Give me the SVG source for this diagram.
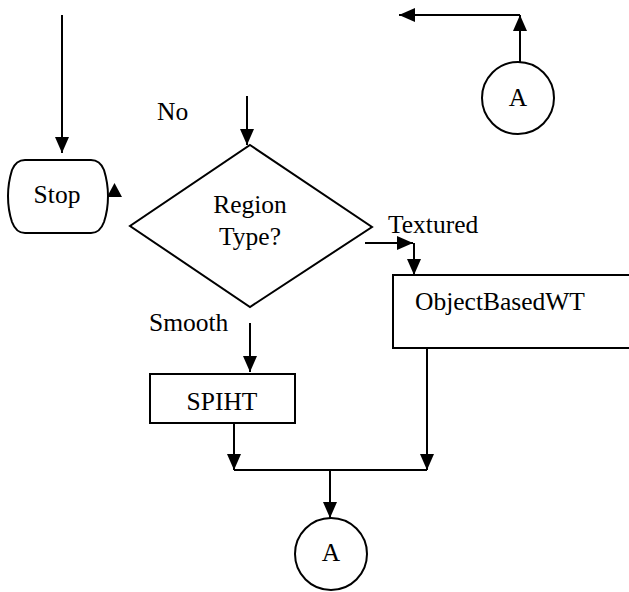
<svg xmlns="http://www.w3.org/2000/svg" width="629" height="592" viewBox="0 0 629 592">
<defs>
<style>
.shape{fill:#fff;stroke:#000;stroke-width:2}
.conn{fill:none;stroke:#000;stroke-width:2}
text{font-family:'Liberation Serif','Times New Roman','DejaVu Serif',serif;font-size:25.5px;fill:#000}
.mid{text-anchor:middle}
</style>
<marker id="ah" markerUnits="userSpaceOnUse" markerWidth="16" markerHeight="14" refX="16" refY="7" orient="auto">
<path d="M0,0 L16,7 L0,14 Z" fill="#000"/>
</marker>
</defs>
<rect width="629" height="592" fill="#fff"/>
<g id="connectors">
<line class="conn" x1="62" y1="15" x2="62" y2="153" marker-end="url(#ah)"/>
<line class="conn" x1="247" y1="96" x2="247" y2="145" marker-end="url(#ah)"/>
<polyline class="conn" points="520,62 520,15" marker-end="url(#ah)"/>
<line class="conn" x1="520" y1="15" x2="399" y2="15" marker-end="url(#ah)"/>
<line class="conn" x1="365" y1="243" x2="413" y2="243" marker-end="url(#ah)"/>
<line class="conn" x1="414" y1="243" x2="414" y2="275" marker-end="url(#ah)"/>
<line class="conn" x1="250" y1="323" x2="250" y2="372" marker-end="url(#ah)"/>
<line class="conn" x1="234" y1="423" x2="234" y2="470" marker-end="url(#ah)"/>
<line class="conn" x1="427" y1="348" x2="427" y2="470" marker-end="url(#ah)"/>
<line class="conn" x1="234" y1="470" x2="427" y2="470"/>
<line class="conn" x1="330" y1="470" x2="330" y2="518" marker-end="url(#ah)"/>
<polygon points="114.5,183 122,197 107,197" fill="#000"/>
</g>
<g id="stop">
<path class="shape" d="M25,160 H91 Q100,160 104,170 Q108,183 108,196 Q108,210 104,222 Q100,233 91,233 H25 Q16,233 12,222 Q8,210 8,196 Q8,183 12,170 Q16,160 25,160 Z"/>
<text class="mid" x="57" y="203" font-family="Liberation Serif, serif">Stop</text>
</g>
<g id="decision">
<polygon class="shape" points="250,145 372,227 250,307 130,226"/>
<text class="mid" x="250" y="213" font-family="Liberation Serif, serif">Region</text>
<text class="mid" x="250" y="245" font-family="Liberation Serif, serif">Type?</text>
</g>
<g id="connectorA-top">
<circle class="shape" cx="518" cy="98" r="36"/>
<text class="mid" x="518" y="106" font-family="Liberation Serif, serif">A</text>
</g>
<g id="objectbased">
<rect class="shape" x="393" y="275" width="250" height="73"/>
<text x="415" y="310" font-family="Liberation Serif, serif">ObjectBasedWT</text>
</g>
<g id="spiht">
<rect class="shape" x="150" y="374" width="145" height="49"/>
<text class="mid" x="222" y="410" font-family="Liberation Serif, serif">SPIHT</text>
</g>
<g id="connectorA-bottom">
<circle class="shape" cx="331" cy="554" r="36"/>
<text class="mid" x="331" y="561" font-family="Liberation Serif, serif">A</text>
</g>
<g id="labels">
<text x="157" y="120" font-family="Liberation Serif, serif">No</text>
<text x="388" y="233" font-family="Liberation Serif, serif">Textured</text>
<text x="149" y="331" font-family="Liberation Serif, serif">Smooth</text>
</g>
</svg>
